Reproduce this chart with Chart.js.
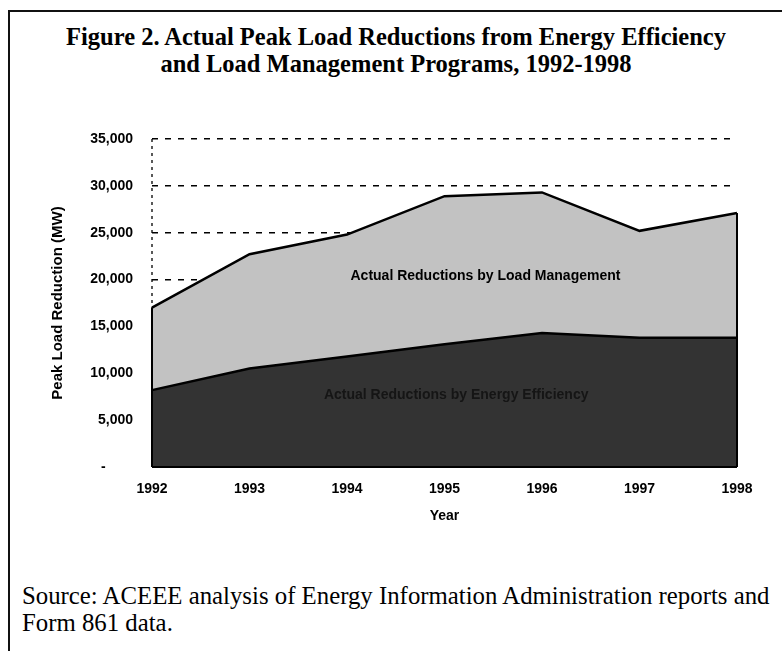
<!DOCTYPE html>
<html>
<head>
<meta charset="utf-8">
<script src="https://cdn.jsdelivr.net/npm/chart.js@4.4.1/dist/chart.umd.min.js"></script>
<style>
  html, body { margin: 0; padding: 0; background: #fff; width: 782px; height: 651px; overflow: hidden; }
  #frame { position: absolute; left: 8px; top: 10px; width: 900px; height: 800px; border-left: 2px solid #111; border-top: 2px solid #111; }
  #title { position: absolute; left: 5px; top: 23px; width: 782px; text-align: center; font-family: "Liberation Serif", "Times New Roman", serif; font-weight: bold; font-size: 24.5px; line-height: 27px; color: #000; }
  #source { position: absolute; left: 22px; top: 583px; font-family: "Liberation Serif", "Times New Roman", serif; font-size: 24.8px; line-height: 26.5px; color: #000; white-space: nowrap; }
  canvas { position: absolute; left: 0; top: 0; }
</style>
</head>
<body>
<div id="frame"></div>
<div id="title"><div>Figure 2. Actual Peak Load Reductions from Energy Efficiency</div><div>and Load Management Programs, 1992-1998</div></div>
<div id="source">Source: ACEEE analysis of Energy Information Administration reports and<br>Form 861 data.</div>
<canvas id="c" width="782" height="651"></canvas>
<script>
const years = ['1992', '1993', '1994', '1995', '1996', '1997', '1998'];
const energyEfficiency = [8200, 10500, 11800, 13100, 14300, 13800, 13800];
const loadManagement = [8800, 12200, 13000, 15800, 15000, 11400, 13300];
const yTicks = [0, 5000, 10000, 15000, 20000, 25000, 30000, 35000];
const efficiencyLabel = 'Actual Reductions by Energy Efficiency';
const managementLabel = 'Actual Reductions by Load Management';

const axisPlugin = {
  id: 'dashedAxis',
  beforeDatasetsDraw(chart) {
    const ctx = chart.ctx, ca = chart.chartArea;
    ctx.save();
    ctx.strokeStyle = '#000';
    ctx.lineWidth = 1.3;
    ctx.setLineDash([3, 4]);
    ctx.beginPath();
    ctx.moveTo(ca.left, ca.top);
    ctx.lineTo(ca.left, ca.bottom);
    ctx.stroke();
    ctx.restore();
  }
};

const edgePlugin = {
  id: 'edges',
  afterDatasetsDraw(chart) {
    const ctx = chart.ctx;
    const x = chart.scales.x, y = chart.scales.y;
    const n = years.length;
    ctx.save();
    ctx.strokeStyle = '#000';
    ctx.lineWidth = 2;
    [0, n - 1].forEach(i => {
      const px = x.getPixelForValue(i);
      const top = y.getPixelForValue(energyEfficiency[i] + loadManagement[i]);
      ctx.beginPath();
      ctx.moveTo(px, top);
      ctx.lineTo(px, y.getPixelForValue(0));
      ctx.stroke();
    });
    ctx.beginPath();
    ctx.moveTo(x.getPixelForValue(0), y.getPixelForValue(0));
    ctx.lineTo(x.getPixelForValue(n - 1), y.getPixelForValue(0));
    ctx.stroke();
    const ca = chart.chartArea;
    ctx.font = 'bold 14px "Liberation Sans", Arial, sans-serif';
    ctx.textAlign = 'center';
    ctx.textBaseline = 'middle';
    ctx.fillStyle = '#000';
    ctx.fillText(managementLabel, ca.left + (ca.right - ca.left) * 0.57, y.getPixelForValue(20400));
    ctx.fillStyle = '#151515';
    ctx.fillText(efficiencyLabel, ca.left + (ca.right - ca.left) * 0.52, y.getPixelForValue(7700));
    ctx.restore();
  }
};

new Chart(document.getElementById('c'), {
  type: 'line',
  data: {
    labels: years,
    datasets: [
      {
        label: efficiencyLabel,
        data: energyEfficiency,
        fill: 'origin',
        backgroundColor: '#333333',
        borderColor: '#000',
        borderWidth: 2.5,
        pointRadius: 0,
        tension: 0
      },
      {
        label: managementLabel,
        data: loadManagement,
        fill: '-1',
        backgroundColor: '#c2c2c2',
        borderColor: '#000',
        borderWidth: 2.5,
        pointRadius: 0,
        tension: 0
      }
    ]
  },
  plugins: [axisPlugin, edgePlugin],
  options: {
    responsive: false,
    animation: false,
    events: [],
    layout: { padding: { left: 45, right: 45, top: 139, bottom: 122 } },
    plugins: { legend: { display: false }, tooltip: { enabled: false }, title: { display: false } },
    scales: {
      x: {
        offset: false,
        grid: { display: false, drawTicks: false },
        border: { display: false },
        ticks: { color: '#000', padding: 14, maxRotation: 0, font: { family: '"Liberation Sans", Arial, sans-serif', weight: 'bold', size: 14 } },
        title: { display: true, text: 'Year', color: '#000', padding: 4, font: { family: '"Liberation Sans", Arial, sans-serif', weight: 'bold', size: 14 } },
        afterFit(s) { s.height = 62; }
      },
      y: {
        stacked: true,
        min: 0,
        max: 35000,
        afterBuildTicks(s) { s.ticks = yTicks.map(v => ({ value: v })); },
        grid: { color: '#000', lineWidth: 1.5, drawTicks: false },
        border: { display: false, dash: [6, 7] },
        ticks: {
          color: '#000', padding: 19,
          font: { family: '"Liberation Sans", Arial, sans-serif', weight: 'bold', size: 14 },
          callback: v => v === 0 ? '-       ' : v.toLocaleString('en-US')
        },
        title: { display: true, text: 'Peak Load Reduction (MW)', color: '#000', padding: 4, font: { family: '"Liberation Sans", Arial, sans-serif', weight: 'bold', size: 15 } },
        afterFit(s) { s.width = 107; }
      }
    }
  }
});
</script>
</body>
</html>
